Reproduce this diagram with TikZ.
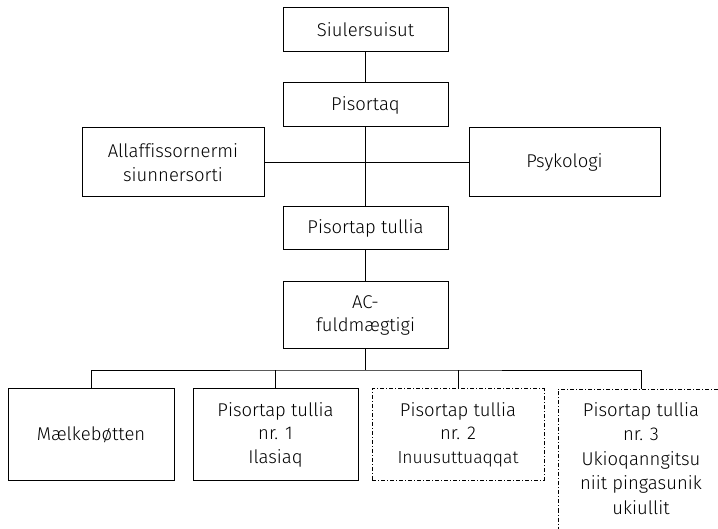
\documentclass[tikz,border=0pt]{standalone}
\usepackage{fontspec}
\setmainfont{Fira Sans}[UprightFont=* Light, Ligatures=NoCommon]
\usetikzlibrary{positioning}

\tikzset{
    box/.style={draw, line width=1pt, align=center, inner sep=0pt,
        font=\fontsize{18.5}{23.5}\selectfont},
    dashbox/.style={box, dash pattern=on 4pt off 2pt on 1pt off 2pt},
    textonly/.style={box, draw=none},
    link/.style={line width=0.9pt}
}

\begin{document}
\begin{tikzpicture}[x=1pt, y=-1pt]
    \useasboundingbox (0, 0) rectangle (718, 529);
    \clip (0, 0) rectangle (718, 529);
    % top of the chart
    \node[box, minimum width=165, minimum height=44] (siul) at (365.5, 30) {Siulersuisut};
    \node[box, minimum width=165, minimum height=44] (pisortaq) at (365.5, 105) {Pisortaq};
    \node[box, minimum width=182, minimum height=69] (allaf) at (173, 162.5) {Allaffissornermi\\siunnersorti};
    \node[box, minimum width=191, minimum height=69] (psyk) at (564.5, 162.5) {Psykologi};
    \node[box, minimum width=165, minimum height=43] (tullia) at (365.5, 228) {Pisortap tullia};
    \node[box, minimum width=165, minimum height=67] (ac) at (365.5, 315.5) {AC-\\fuldmægtigi};
    % bottom row
    \node[box, minimum width=166, minimum height=91] (maelk) at (91, 434.5) {Mælkebøtten};
    \node[box, minimum width=165, minimum height=91] (nr1) at (275.5, 434.5) {Pisortap tullia\\nr. 1\\Ilasiaq};
    \node[dashbox, minimum width=172, minimum height=91] (nr2) at (458, 434.5) {Pisortap tullia\\nr. 2\\{\fontsize{17.5}{23.5}\selectfont Inuusuttuaqqat}};
    \node[dashbox, minimum width=166, minimum height=170, anchor=north] (nr3) at (641, 389) {};
    \node[textonly, below=13pt of nr3.north, font=\fontsize{18.5}{24.5}\selectfont] (nr3txt) {Pisortap tullia\\nr. 3\\Ukioqanngitsu\\niit pingasunik\\ukiullit};
    \coordinate (bus) at (365.5, 370);

    \draw[link]
    (siul) -- (pisortaq)
    (pisortaq) -- (tullia)
    (allaf) -- (psyk)
    (tullia) -- (ac)
    (ac) -- (bus)
    (maelk.north) |- (bus) -| (nr3.north)
    (nr1.north) -- (nr1.north |- bus)
    (nr2.north) -- (nr2.north |- bus);
\end{tikzpicture}
\end{document}
